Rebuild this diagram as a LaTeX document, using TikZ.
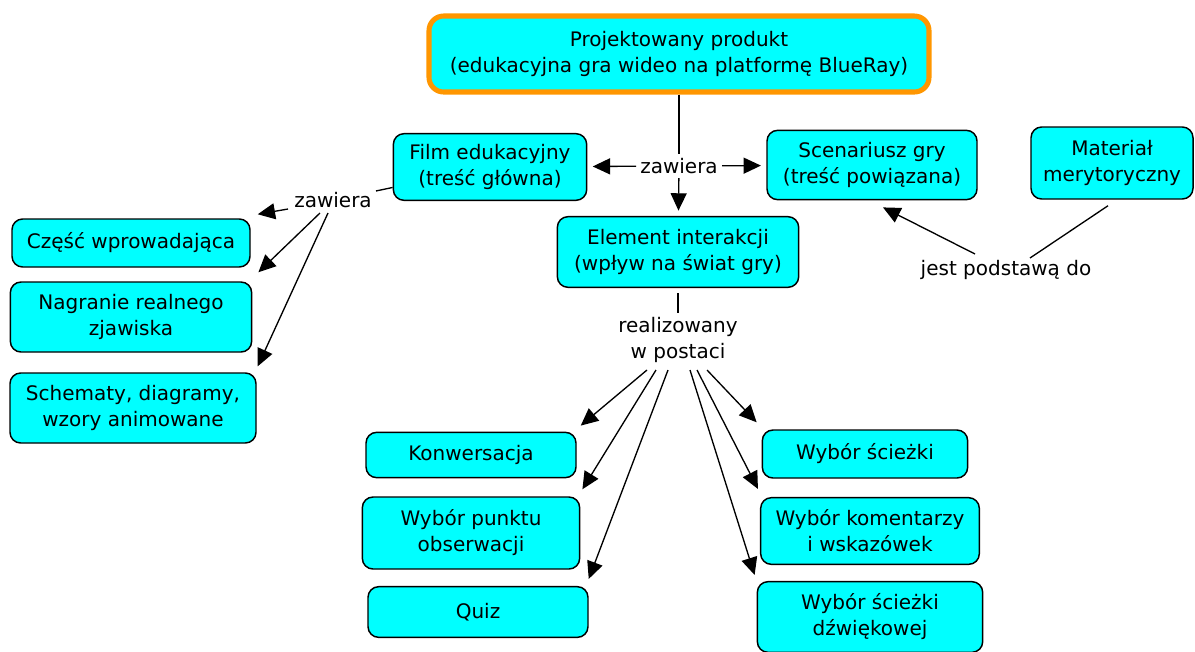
\documentclass[tikz,border=0pt]{standalone}
\usepackage{fontspec}
\setmainfont{DejaVu Sans}
\usetikzlibrary{arrows.meta}
\definecolor{boxfill}{RGB}{0,255,255}
\definecolor{rootedge}{RGB}{255,150,0}

\begin{document}
\begin{tikzpicture}[x=0.75pt,y=-0.75pt,
  font=\fontsize{15pt}{19.5pt}\selectfont,
  concept/.style={draw=black, line width=1.1pt, fill=boxfill, rounded corners=8pt,
                  align=center, inner sep=0pt},
  root/.style={concept, draw=rootedge, line width=3.8pt, rounded corners=11pt},
  link/.style={align=center, inner sep=3pt},
  conn/.style={line width=1pt},
  arr/.style={conn, -{Triangle[length=13pt,width=12pt]}},
]
\useasboundingbox (0,0) rectangle (1195,651);

% concepts
\node[root, minimum width=375pt, minimum height=57pt] (prod) at (679,54)
  {Projektowany produkt\\(edukacyjna gra wideo na platformę BlueRay)};
\node[concept, minimum width=145pt, minimum height=50pt] (film) at (490,167)
  {Film edukacyjny\\(treść główna)};
\node[concept, minimum width=157.5pt, minimum height=52pt] (scen) at (872,165)
  {Scenariusz gry\\(treść powiązana)};
\node[concept, minimum width=121.5pt, minimum height=54pt] (mat) at (1112,163)
  {Materiał\\merytoryczny};
\node[concept, minimum width=181pt, minimum height=53pt] (elem) at (678,252)
  {Element interakcji\\(wpływ na świat gry)};
\node[concept, minimum width=178.5pt, minimum height=36pt] (intro) at (131,243)
  {Część wprowadająca};
\node[concept, minimum width=181pt, minimum height=52.5pt] (rec) at (131,317)
  {Nagranie realnego\\zjawiska};
\node[concept, minimum width=184.5pt, minimum height=52.5pt] (schem) at (133,408)
  {Schematy, diagramy,\\wzory animowane};
\node[concept, minimum width=157.5pt, minimum height=34pt] (conv) at (471,455)
  {Konwersacja};
\node[concept, minimum width=163pt, minimum height=54pt] (view) at (471,533)
  {Wybór punktu\\obserwacji};
\node[concept, minimum width=165pt, minimum height=38pt] (quiz) at (478,612)
  {Quiz};
\node[concept, minimum width=154pt, minimum height=36pt] (path) at (865,454)
  {Wybór ścieżki};
\node[concept, minimum width=164pt, minimum height=50pt] (hint) at (870,531)
  {Wybór komentarzy\\i wskazówek};
\node[concept, minimum width=169pt, minimum height=53pt] (audio) at (870,617)
  {Wybór ścieżki\\dźwiękowej};

% linking phrases
\node[link] (zaw1) at (679,166) {zawiera};
\node[link] (zaw2) at (333,200) {zawiera};
\node[link] (real) at (678,340) {realizowany\\w postaci};
\node[link] (base) at (1006,270) {jest podstawą do};

% product -> contents
\draw[conn] (prod) -- (zaw1);
\draw[arr, shorten >=4pt] (zaw1) -- (film);
\draw[arr, shorten >=4pt] (zaw1) -- (scen);
\draw[arr, shorten >=4pt] (zaw1) -- (elem);

% film -> parts
\draw[conn] (film) -- (zaw2);
\draw[arr] ([shift={(-45,9)}]zaw2.center) -- ([shift={(7,-4)}]intro.north east);
\draw[arr] ([shift={(-13,13)}]zaw2.center) -- ([shift={(6,-9)}]rec.north east);
\draw[arr] ([shift={(-5,13)}]zaw2.center) -- ([shift={(1,-6)}]schem.north east);

% interaction -> forms
\draw[conn, shorten <=4pt] (elem) -- (real);
\draw[arr] ([shift={(-31,30)}]real.center) -- ([shift={(4,-6)}]conv.north east);
\draw[arr] ([shift={(-22,30)}]real.center) -- ([shift={(2,-7)}]view.north east);
\draw[arr] ([shift={(-10,30)}]real.center) -- ([shift={(0,-7)}]quiz.north east);
\draw[arr] ([shift={(29,30)}]real.center) -- ([shift={(-5,-7)}]path.north west);
\draw[arr] ([shift={(19,30)}]real.center) -- ([shift={(-2,-8)}]hint.north west);
\draw[arr] ([shift={(12,30)}]real.center) -- ([shift={(-2,-6)}]audio.north west);

% subject matter -> script
\draw[conn] ([shift={(-4,6)}]mat.south) -- ([shift={(24,-12)}]base.center);
\draw[arr] ([shift={(-31,-16)}]base.center) -- ([shift={(11,7)}]scen.south);
\end{tikzpicture}
\end{document}
